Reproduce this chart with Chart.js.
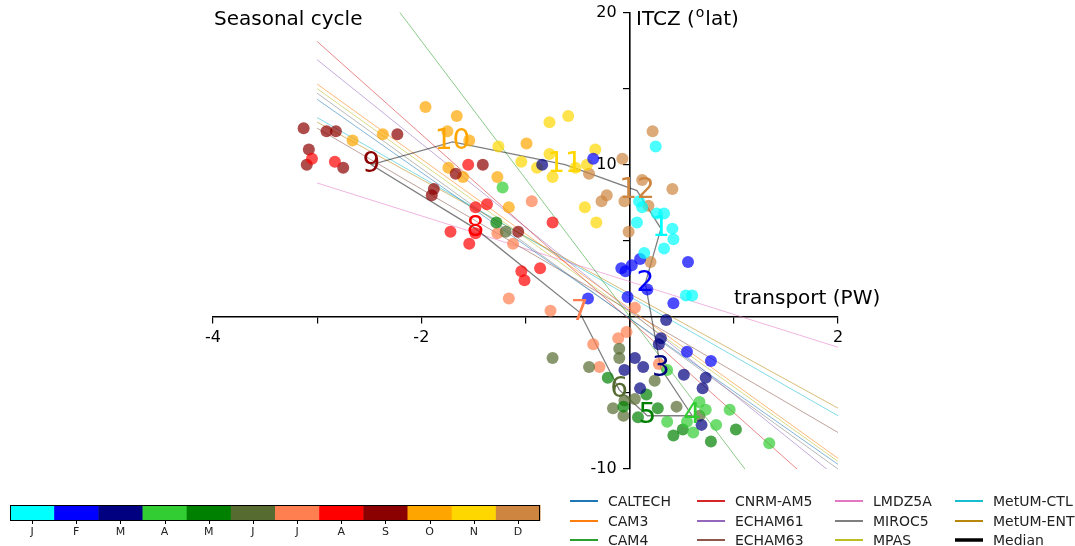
<!DOCTYPE html>
<html>
<head>
<meta charset="utf-8">
<script src="https://cdn.jsdelivr.net/npm/chart.js@4.4.1/dist/chart.umd.min.js"></script>
<style>
  html, body { margin: 0; padding: 0; background: #fff; }
  #wrap { width: 1075px; height: 546px; }
</style>
</head>
<body>
<div id="wrap"><canvas id="cycle" width="1075" height="546"></canvas></div>
<script>
// ---- month colours / labels ----
const monthLetters = ['J', 'F', 'M', 'A', 'M', 'J', 'J', 'A', 'S', 'O', 'N', 'D'];
const monthColors  = ['#00ffff', '#0000ff', '#000080', '#32cd32', '#008000', '#556b2f',
                      '#ff7f50', '#ff0000', '#8b0000', '#ffa500', '#ffd700', '#cd853f'];

// ---- monthly (transport PW, ITCZ lat) per model ----
const ptsJan = [[0.25,11.2],[0.09,7.6],[0.12,7.2],[0.26,6.8],[0.33,6.8],[0.07,6.2],[0.41,5.8],[0.42,5.1],[0.33,4.5],[0.14,4.2],[0.54,1.4],[0.60,1.4]];
const ptsFeb = [[-0.35,10.4],[-0.08,3.2],[-0.04,3.0],[0.02,3.4],[0.10,3.8],[0.56,3.6],[-0.02,1.3],[0.17,1.8],[0.42,0.9],[-0.40,1.2],[0.55,-2.3],[0.78,-2.9]];
const ptsMar = [[-0.84,10.0],[0.35,-0.2],[0.30,-1.4],[0.28,-1.8],[0.05,-2.7],[0.13,-3.3],[-0.05,-3.5],[0.10,-4.7],[0.52,-3.8],[0.73,-4.0],[0.70,-4.7],[0.69,-7.1]];
const ptsApr = [[-1.22,8.5],[0.36,-3.5],[0.67,-5.6],[0.73,-6.1],[0.96,-6.1],[0.83,-7.1],[0.61,-7.6],[1.34,-8.3],[0.55,-6.9],[0.36,-6.9]];
const ptsMay = [[-1.28,6.2],[-0.21,-4.0],[-0.06,-5.9],[0.08,-6.6],[0.27,-6.0],[0.42,-7.8],[0.51,-7.4],[0.78,-8.2],[1.02,-7.4],[0.16,-5.1]];
const ptsJun = [[-1.19,5.6],[-0.74,-2.7],[-0.39,-3.3],[-0.10,-2.1],[-0.10,-2.7],[-0.16,-6.0],[-0.06,-6.5],[-0.05,-5.5],[0.05,-5.4],[0.24,-4.2],[0.45,-5.9],[0.67,-6.5]];
const ptsJul = [[-1.27,5.5],[-1.12,4.8],[-1.16,1.2],[-0.94,7.6],[-0.76,0.4],[-0.03,-1.0],[-0.11,-1.4],[-0.35,-1.8],[-0.29,-3.3],[0.05,0.6],[0.28,-3.1]];
const ptsAug = [[-3.05,10.4],[-2.83,10.2],[-1.55,10.0],[-1.48,7.2],[-1.37,7.4],[-1.72,5.6],[-1.54,4.8],[-1.48,5.5],[-1.04,3.0],[-1.01,2.4],[-0.86,3.2],[-0.74,6.2]];
const ptsSep = [[-3.13,12.4],[-3.08,11.0],[-3.10,10.0],[-2.91,12.2],[-2.82,12.2],[-2.75,9.8],[-2.23,12.0],[-1.88,8.4],[-1.90,8.0],[-1.67,9.4],[-1.41,10.0],[-1.07,5.6]];
const ptsOct = [[-1.96,13.8],[-1.66,13.2],[-1.75,12.2],[-1.54,11.6],[-2.37,12.0],[-2.66,11.6],[-1.74,9.8],[-1.60,9.2],[-0.99,11.4],[-1.27,9.2],[-1.16,7.2]];
const ptsNov = [[-0.77,12.8],[-0.59,13.2],[-1.26,11.2],[-1.04,10.2],[-0.77,10.7],[-0.89,9.8],[-0.74,9.2],[-0.52,9.8],[-0.41,10.0],[-0.33,11.0],[-0.43,7.2],[-0.32,6.2]];
const ptsDec = [[0.22,12.2],[-0.07,10.4],[0.12,9.0],[-0.39,9.4],[-0.22,8.0],[-0.27,7.6],[-0.05,7.6],[0.41,8.4],[0.18,7.3],[-0.01,5.6],[0.20,3.6]];
const monthPts = [ptsJan, ptsFeb, ptsMar, ptsApr, ptsMay, ptsJun, ptsJul, ptsAug, ptsSep, ptsOct, ptsNov, ptsDec];

// ---- median seasonal cycle, months 1..12 ----
const medianX = [0.30, 0.15, 0.30, 0.60, 0.17, -0.10, -0.48, -1.48, -2.48, -1.70, -0.62, 0.07];
const medianY = [5.8, 2.2, -3.4, -6.5, -6.5, -4.8, 0.3, 5.8, 10.0, 11.5, 10.0, 8.3];

// ---- per-model regression lines, ITCZ at transport = lineX ----
const lineX      = [-3, 2];
const modelNames = ['CALTECH', 'CAM3', 'CAM4', 'CNRM-AM5', 'ECHAM61', 'ECHAM63',
                    'LMDZ5A', 'MIROC5', 'MPAS', 'MetUM-CTL', 'MetUM-ENT'];
const modelColors = ['#1f77b4', '#ff7f0e', '#2ca02c', '#d62728', '#9467bd', '#8c564b',
                     '#e377c2', '#7f7f7f', '#bcbd22', '#17becf', '#b8860b'];
const lineLeftY  = [14.3, 15.3, 27.2, 18.1, 16.9, 12.4, 8.8, 14.7, 15.0, 13.1, 12.8];
const lineRightY = [-9.7, -9.3, -18.1, -12.4, -10.6, -7.6, -2.0, -10.0, -9.5, -6.5, -6.0];

// ---- axis tick labels ----
const xTickLabels = [-4, -2, 2];
const yTickLabels = [20, 10, -10];

const FONT = "'DejaVu Sans', sans-serif";

function withAlpha(hex, a) {
  const n = parseInt(hex.slice(1), 16);
  return `rgba(${(n >> 16) & 255},${(n >> 8) & 255},${n & 255},${a})`;
}

const datasets = [];

// scatter points (drawn on top)
monthPts.forEach((pts, m) => {
  datasets.push({
    type: 'scatter',
    label: monthLetters[m],
    data: pts.map(p => ({ x: p[0], y: p[1] })),
    pointRadius: 6,
    pointBackgroundColor: withAlpha(monthColors[m], 0.7),
    pointBorderWidth: 0,
    order: 0
  });
});

// median cycle, closed loop
const medianLoop = medianX.map((x, i) => ({ x, y: medianY[i] }));
medianLoop.push({ x: medianX[0], y: medianY[0] });
datasets.push({
  type: 'line',
  label: 'Median',
  data: medianLoop,
  borderColor: 'rgba(0,0,0,0.5)',
  borderWidth: 1.3,
  pointRadius: 0,
  tension: 0,
  order: 1
});

// model fits
modelNames.forEach((name, i) => {
  datasets.push({
    type: 'line',
    label: name,
    data: [{ x: lineX[0], y: lineLeftY[i] }, { x: lineX[1], y: lineRightY[i] }],
    borderColor: withAlpha(modelColors[i], 0.55),
    borderWidth: 1,
    pointRadius: 0,
    tension: 0,
    order: 2
  });
});

/* month numbers, titles, legend and colour bar */
const decor = {
  id: 'decor',
  afterDatasetsDraw(chart) {
    const { ctx, scales: { x, y } } = chart;
    ctx.save();
    ctx.font = `28px ${FONT}`;
    ctx.textAlign = 'center';
    ctx.textBaseline = 'middle';
    medianX.forEach((mx, i) => {
      ctx.fillStyle = monthColors[i];
      ctx.fillText(String(i + 1), x.getPixelForValue(mx), y.getPixelForValue(medianY[i]));
    });
    ctx.restore();
  },
  afterDraw(chart) {
    const { ctx } = chart;
    ctx.save();
    ctx.fillStyle = '#000';
    ctx.textBaseline = 'middle';
    ctx.textAlign = 'left';

    // titles
    ctx.font = `20px ${FONT}`;
    ctx.fillText('Seasonal cycle', 214, 20);
    ctx.fillText('transport (PW)', 734, 299);
    let tx = 636;
    ctx.fillText('ITCZ (', tx, 20);
    tx += ctx.measureText('ITCZ (').width;
    ctx.font = `14px ${FONT}`;
    ctx.fillText('o', tx + 1, 13);
    tx += ctx.measureText('o').width + 2;
    ctx.font = `20px ${FONT}`;
    ctx.fillText('lat)', tx, 20);

    // legend, column-major
    const colLine = [570, 697, 835, 955];
    const colText = [608, 735, 873, 993];
    const rowY = [501, 521, 540];
    const names = modelNames.concat(['Median']);
    const colors = modelColors.concat(['#000']);
    ctx.font = `14px ${FONT}`;
    names.forEach((name, i) => {
      const c = Math.floor(i / 3), r = i % 3;
      ctx.strokeStyle = colors[i];
      ctx.lineWidth = name === 'Median' ? 3.5 : 2;
      ctx.beginPath();
      ctx.moveTo(colLine[c], rowY[r]);
      ctx.lineTo(colLine[c] + 28, rowY[r]);
      ctx.stroke();
      ctx.fillStyle = '#222';
      ctx.fillText(name, colText[c], rowY[r] + 1);
    });

    // month colour bar
    const bx0 = 10, bx1 = 540, by0 = 505, by1 = 521;
    const w = (bx1 - bx0) / 12;
    monthColors.forEach((col, i) => {
      ctx.fillStyle = col;
      ctx.fillRect(bx0 + i * w, by0, w + 0.5, by1 - by0);
    });
    ctx.strokeStyle = '#000';
    ctx.lineWidth = 1;
    ctx.strokeRect(bx0 + 0.5, by0 + 0.5, bx1 - bx0 - 1, by1 - by0 - 1);
    ctx.font = `11px ${FONT}`;
    ctx.textAlign = 'center';
    ctx.fillStyle = '#222';
    monthLetters.forEach((m, i) => {
      const cx = bx0 + (i + 0.5) * w;
      ctx.beginPath();
      ctx.moveTo(Math.round(cx) + 0.5, by1);
      ctx.lineTo(Math.round(cx) + 0.5, by1 + 3);
      ctx.stroke();
      ctx.fillText(m, cx, 532);
    });
    ctx.restore();
  }
};

const axisCommon = {
  type: 'linear',
  border: { display: true, color: '#000', width: 1.6 },
  grid: { drawOnChartArea: false, drawTicks: true, tickLength: 6, color: '#000', lineWidth: 1.2 },
};

new Chart(document.getElementById('cycle'), {
  type: 'scatter',
  data: { datasets },
  options: {
    responsive: false,
    animation: false,
    events: [],
    layout: { padding: { left: 213, right: 237, top: 11, bottom: 77 } },
    plugins: { legend: { display: false }, tooltip: { enabled: false } },
    scales: {
      x: {
        ...axisCommon,
        min: -4, max: 2,
        position: { y: 0 },
        afterFit: s => { s.height = 0; },
        ticks: {
          stepSize: 1, autoSkip: false, maxRotation: 0, color: '#000', padding: 5,
          font: { family: FONT, size: 16 },
          callback: v => xTickLabels.includes(v) ? String(v) : ''
        }
      },
      y: {
        ...axisCommon,
        min: -10, max: 20,
        position: { x: 0 },
        afterFit: s => { s.width = 0; },
        ticks: {
          stepSize: 5, autoSkip: false, color: '#000',
          font: { family: FONT, size: 16 },
          // labels are right-aligned on the axis line; trailing spacing clears the tick marks
          callback: v => yTickLabels.includes(v) ? String(v) + '\u2002 ' : ''
        }
      }
    }
  },
  plugins: [decor]
});
</script>
</body>
</html>
